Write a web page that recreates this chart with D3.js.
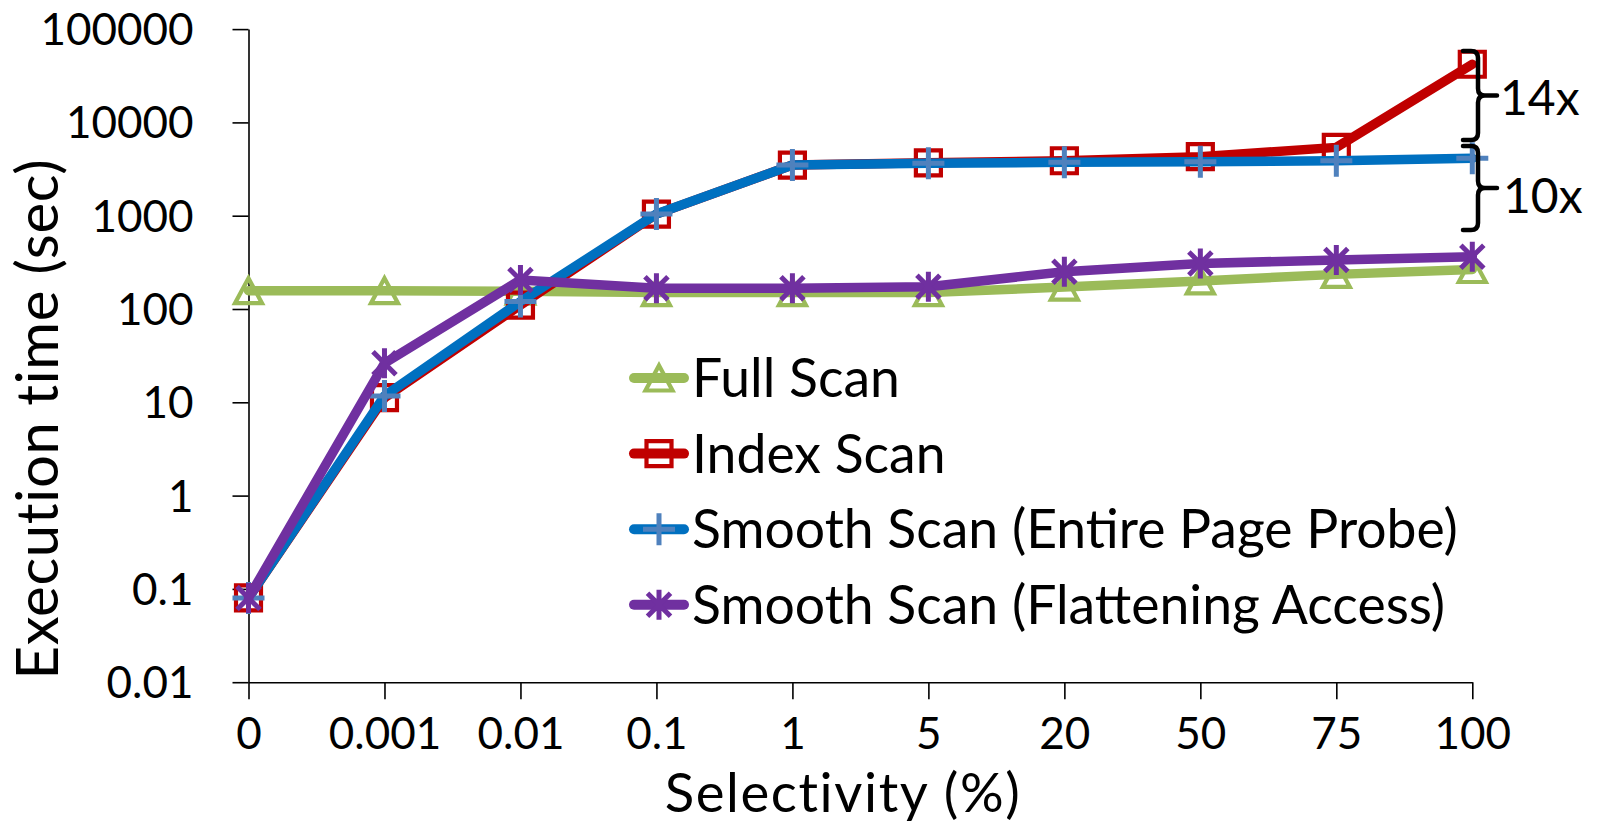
<!DOCTYPE html>
<html>
<head>
<meta charset="utf-8">
<script src="https://cdn.jsdelivr.net/npm/d3@7"></script>
<style>
  html, body { margin: 0; padding: 0; background: #fff; }
  svg { display: block; }
  text { font-family: Lato, "Open Sans", sans-serif; fill: #000; }
</style>
</head>
<body>
<svg id="chart" width="1597" height="824"></svg>
<script>
// ---- data ----
const categories = ["0", "0.001", "0.01", "0.1", "1", "5", "20", "50", "75", "100"];
const fullScan   = [157, 157, 155, 150, 150, 150, 172, 200, 235, 265];
const indexScan  = [0.08, 11.2, 110, 1040, 3490, 3690, 3880, 4290, 5400, 42000];
const smoothEPP  = [0.08, 11.7, 120, 1042, 3490, 3640, 3730, 3790, 3890, 4120];
const smoothFA   = [0.08, 26.2, 205, 167, 167, 173, 251, 308, 335, 364];
const yTickValues = [0.01, 0.1, 1, 10, 100, 1000, 10000, 100000];
const yTickLabels = ["0.01", "0.1", "1", "10", "100", "1000", "10000", "100000"];
const seriesNames = ["Full Scan", "Index Scan", "Smooth Scan (Entire Page Probe)", "Smooth Scan (Flattening Access)"];
const xTitle = "Selectivity (%)";
const yTitle = "Execution time (sec)";
const annotations = ["14x", "10x"];

// ---- layout ----
const svg = d3.select("#chart");
const x = d3.scalePoint().domain(categories).range([248.5, 1472.3]).padding(0);
const y = d3.scaleLog().domain([0.01, 100000]).range([682.2, 29.1]);

const series = [
  { name: seriesNames[0], values: fullScan,  line: "#9BBB59", mark: "#9BBB59", shape: "triangle" },
  { name: seriesNames[1], values: indexScan, line: "#C00000", mark: "#C00000", shape: "square" },
  { name: seriesNames[2], values: smoothEPP, line: "#0070C0", mark: "#4F81BD", shape: "plus" },
  { name: seriesNames[3], values: smoothFA,  line: "#7030A0", mark: "#7030A0", shape: "star" }
];

function markerPath(shape) {
  switch (shape) {
    case "triangle": return "M0,-12.5L13.5,12.5L-13.5,12.5Z";
    case "square":   return "M-12.5,-12.5H12.5V12.5H-12.5Z";
    case "plus":     return "M-16,0H16M0,-16V16";
    case "star":     return "M0,-15V15M-11.5,-11.5L11.5,11.5M-11.5,11.5L11.5,-11.5";
  }
}
function markerStroke(shape) {
  return shape === "plus" || shape === "star" ? 5 : 4.2;
}

// ---- axes ----
const yAxis = svg.append("g")
  .attr("transform", `translate(${x(categories[0])},0)`)
  .call(d3.axisLeft(y).tickValues(yTickValues).tickFormat((d, i) => yTickLabels[i]).tickSize(16).tickSizeOuter(0));
yAxis.select(".domain").attr("stroke", "#000").attr("stroke-width", 1.6);
yAxis.selectAll(".tick line").attr("stroke", "#000").attr("stroke-width", 1.6);
yAxis.selectAll(".tick text")
  .attr("x", -55).attr("dy", null).attr("y", 15.5)
  .style("font-size", "44px").style("font-family", "Lato");

const xAxis = svg.append("g")
  .attr("transform", `translate(0,${y(0.01)})`)
  .call(d3.axisBottom(x).tickSize(17).tickSizeOuter(0));
xAxis.select(".domain").attr("stroke", "#000").attr("stroke-width", 1.6);
xAxis.selectAll(".tick line").attr("stroke", "#000").attr("stroke-width", 1.6);
xAxis.selectAll(".tick text")
  .attr("dy", null).attr("y", 66.5)
  .style("font-size", "44px").style("font-family", "Lato");

svg.append("text")
  .attr("x", 843).attr("y", 812)
  .attr("text-anchor", "middle").style("font-size", "54.5px").style("letter-spacing", "1.6px")
  .text(xTitle);
svg.append("text")
  .attr("transform", "translate(58,419) rotate(-90)")
  .attr("text-anchor", "middle").style("font-size", "58px").style("letter-spacing", "0.7px")
  .text(yTitle);

// ---- series ----
const line = d3.line().x((d, i) => x(categories[i])).y(d => y(d));
series.forEach(s => {
  const g = svg.append("g");
  g.append("path")
    .attr("d", line(s.values))
    .attr("fill", "none").attr("stroke", s.line).attr("stroke-width", 9.5)
    .attr("stroke-linejoin", "round").attr("stroke-linecap", "round");
  g.selectAll("path.mk").data(s.values).join("path")
    .attr("class", "mk")
    .attr("transform", (d, i) => `translate(${x(categories[i])},${y(d)})`)
    .attr("d", markerPath(s.shape))
    .attr("fill", "none").attr("stroke", s.mark).attr("stroke-width", markerStroke(s.shape));
});

// ---- legend ----
const legend = svg.append("g").attr("transform", "translate(629,378)");
series.forEach((s, i) => {
  const row = legend.append("g").attr("transform", `translate(0,${i * 75.6})`);
  row.append("line").attr("x1", 5).attr("x2", 55).attr("y1", 0).attr("y2", 0)
    .attr("stroke", s.line).attr("stroke-width", 10).attr("stroke-linecap", "round");
  row.append("path").attr("transform", "translate(30,0)")
    .attr("d", markerPath(s.shape))
    .attr("fill", "none").attr("stroke", s.mark).attr("stroke-width", markerStroke(s.shape));
  row.append("text").attr("x", 63).attr("y", 19).style("font-size", "53.5px").text(s.name);
});

// ---- braces ----
function brace(y0, y1) {
  const x0 = 1463, x1 = 1478, x2 = 1497, r = 7, ym = (y0 + y1) / 2;
  return `M${x0},${y0} L${x1 - r},${y0} Q${x1},${y0} ${x1},${y0 + r}` +
         ` L${x1},${ym - r} Q${x1},${ym} ${x1 + r},${ym} L${x2},${ym}` +
         ` M${x1 + r},${ym} Q${x1},${ym} ${x1},${ym + r}` +
         ` L${x1},${y1 - r} Q${x1},${y1} ${x1 - r},${y1} L${x0},${y1}`;
}
svg.append("path").attr("d", brace(51, 140))
  .attr("fill", "none").attr("stroke", "#000").attr("stroke-width", 4.5).attr("stroke-linecap", "round");
svg.append("path").attr("d", brace(146, 230))
  .attr("fill", "none").attr("stroke", "#000").attr("stroke-width", 4.5).attr("stroke-linecap", "round");
svg.append("text").attr("x", 1500).attr("y", 115).style("font-size", "48px").text(annotations[0]);
svg.append("text").attr("x", 1503).attr("y", 213).style("font-size", "48px").text(annotations[1]);
</script>
</body>
</html>
